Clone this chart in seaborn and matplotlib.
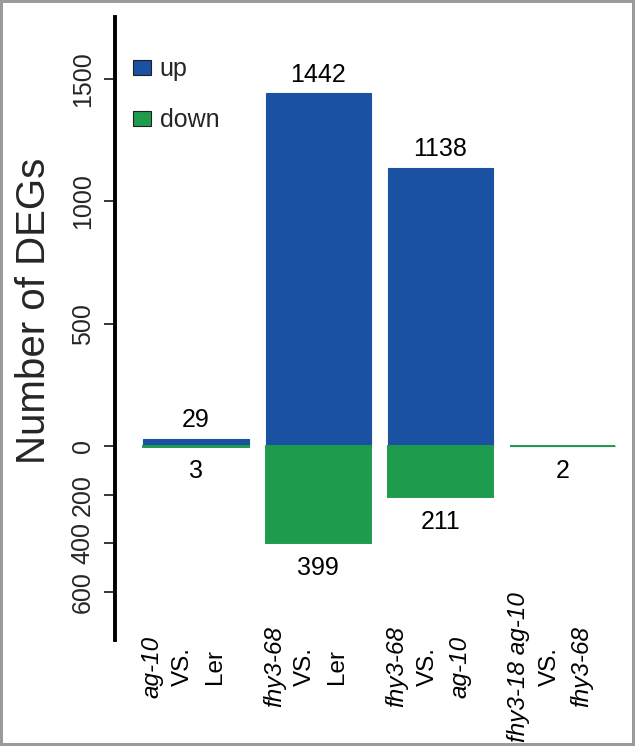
import matplotlib
matplotlib.use("Agg")
import matplotlib.pyplot as plt
import seaborn as sns
import pandas as pd
from matplotlib.patches import Patch
from matplotlib.transforms import offset_copy, blended_transform_factory

# ---- data ----
comparisons = ["ag-10 VS. Ler", "fhy3-68 VS. Ler", "fhy3-68 VS. ag-10",
               "fhy3-18 ag-10 VS. fhy3-68"]
label_lines = [("ag-10", "VS.", "Ler"),
               ("fhy3-68", "VS.", "Ler"),
               ("fhy3-68", "VS.", "ag-10"),
               ("fhy3-18 ag-10", "VS.", "fhy3-68")]
label_italic = [(True, False, False),
                (True, False, False),
                (True, False, True),
                (True, False, True)]
up_counts = [29, 1442, 1138, 0]
down_counts = [3, 399, 211, 2]
ytick_values = [-600, -400, -200, 0, 500, 1000, 1500]
ytick_labels = ["600", "400", "200", "0", "500", "1000", "1500"]
legend_labels = ["up", "down"]

BLUE = "#1a51a3"
GREEN = "#1f9b4e"

sns.set_style("white")
plt.rcParams["font.family"] = ["Liberation Sans", "DejaVu Sans"]

fig = plt.figure(figsize=(6.35, 7.46), dpi=100)
fig.patch.set_edgecolor("#9a9a9a")
fig.patch.set_linewidth(3)
ax = fig.add_axes([115 / 635, 1 - 640 / 746, 510 / 635, 623 / 746])

df = pd.DataFrame({"comp": comparisons, "up": up_counts,
                   "down": [-d for d in down_counts]})

sns.barplot(data=df, x="comp", y="up", color=BLUE, saturation=1, width=0.86,
            edgecolor=BLUE, linewidth=0.8, ax=ax)
sns.barplot(data=df, x="comp", y="down", color=GREEN, saturation=1, width=0.86,
            edgecolor=GREEN, linewidth=1.4, ax=ax)

ax.set_xlim(-0.663, 3.51)
ax.set_ylim(-795, 1755)

# value labels
for i, (u, d) in enumerate(zip(up_counts, down_counts)):
    if u > 0:
        ax.annotate(str(u), xy=(i, u), xytext=(0, 5), textcoords="offset points",
                    ha="center", va="bottom", fontsize=18, color="black")
    if d > 0:
        ax.annotate(str(d), xy=(i, -d), xytext=(0, -9), textcoords="offset points",
                    ha="center", va="top", fontsize=18, color="black")

# y axis
ax.set_yticks(ytick_values)
ax.set_yticklabels(ytick_labels, fontsize=18)
for lbl in ax.get_yticklabels():
    lbl.set_rotation(90)
    lbl.set_va("center")
ax.tick_params(axis="y", direction="out", length=8, width=1.1, color="black",
               pad=6.5, left=True)
ax.set_ylabel("Number of DEGs", fontsize=29)
ax.yaxis.set_label_coords(-0.122, 0.528)

# x axis labels (custom multi-line, mixed italic)
ax.set_xticks([])
ax.set_xlabel("")
trans = blended_transform_factory(ax.transData, ax.transAxes)
line_offsets = [-44, -13, 19]
for i, (lines, itals) in enumerate(zip(label_lines, label_italic)):
    for txt, it, dx in zip(lines, itals, line_offsets):
        t = offset_copy(trans, fig=fig, x=dx, y=0, units="dots")
        ax.text(i, -0.0433, txt, transform=t, rotation=90, ha="center",
                va="center", fontsize=17.5, fontstyle="italic" if it else "normal",
                color="black")

# spines
for s in ["top", "right", "bottom"]:
    ax.spines[s].set_visible(False)
ax.spines["left"].set_linewidth(2.8)
ax.spines["left"].set_color("black")
ax.grid(False)

# legend
handles = [Patch(facecolor=BLUE, edgecolor="#202020", linewidth=0.8),
           Patch(facecolor=GREEN, edgecolor="#202020", linewidth=0.8)]
ax.legend(handles, legend_labels, loc="upper left", bbox_to_anchor=(0.035, 0.935),
          frameon=False, fontsize=18, handlelength=0.72, handleheight=0.52,
          handletextpad=0.35, labelspacing=1.08, borderpad=0, borderaxespad=0)

fig.savefig("out.png", dpi=100)
